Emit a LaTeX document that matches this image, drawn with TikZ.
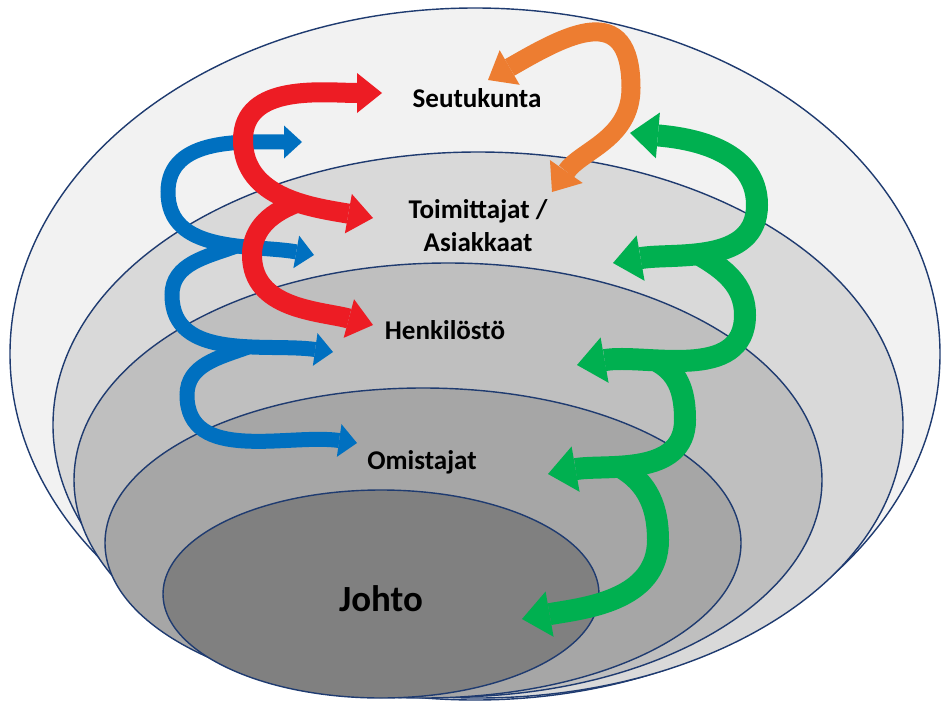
\documentclass[tikz,border=0pt]{standalone}
\usepackage{fontspec}
\setmainfont{Carlito}
\usetikzlibrary{arrows.meta}
\definecolor{cring}{HTML}{1F3B70}
\definecolor{cred}{HTML}{ED1C24}
\definecolor{cblue}{HTML}{0070C0}
\definecolor{cgreen}{HTML}{00B050}
\definecolor{corange}{HTML}{ED7D31}
\tikzset{
  ring/.style={draw=cring, line width=0.8pt, fill=#1},
  levelname/.style={font=\bfseries\fontsize{15.4}{18.7}\selectfont, align=center},
  redflow/.style={draw=cred, line width=4mm, >={Triangle[length=5mm, width=8mm, line width=0pt]}},
  blueflow/.style={draw=cblue, line width=3mm, >={Triangle[length=3.6mm, width=6.6mm, line width=0pt]}},
  greenflow/.style={draw=cgreen, line width=4.4mm, >={Triangle[length=5.6mm, width=9.2mm, line width=0pt]}},
  orangeflow/.style={draw=corange, line width=3.8mm, >={Triangle[length=5mm, width=8mm, line width=0pt]}},
}

\begin{document}
\begin{tikzpicture}
  \useasboundingbox (0,0) rectangle (18.82,14.10);
  % nested rings
  \draw[ring=black!5]  (9.50,7.02) ellipse [x radius=9.30, y radius=6.92];
  \draw[ring=black!15] (9.56,5.60) ellipse [x radius=8.50, y radius=5.46];
  \draw[ring=black!25] (8.96,4.50) ellipse [x radius=7.48, y radius=4.34];
  \draw[ring=black!35] (8.46,3.24) ellipse [x radius=6.36, y radius=3.10];
  \draw[ring=black!50] (7.62,2.22) ellipse [x radius=4.36, y radius=2.08];

  \node[levelname] (seutu) at (9.54,12.14) {Seutukunta};
  \node[levelname] (toim) at (9.56,9.58) {Toimittajat /\\Asiakkaat};
  \node[levelname] (henk) at (8.90,7.50) {Henkilöstö};
  \node[levelname] (omist) at (8.44,4.86) {Omistajat};
  \node[font=\bfseries\fontsize{21}{25}\selectfont] (johto) at (7.62,2.12) {Johto};

  % blue spiral
  \draw[blueflow, <->] (6.04,11.26) to[out=180, in=90] (3.36,10.26)
    to[out=270, in=170] coordinate[pos=0.6] (b1fork) (6.28,9.00);
  \draw[blueflow, ->] (b1fork) to[out=200, in=90] (3.44,8.20)
    to[out=270, in=172] coordinate[pos=0.6] (b2fork) (6.66,7.06);
  \draw[blueflow, ->] (b2fork) to[out=200, in=90] (3.74,6.20) to[out=270, in=172] (7.14,5.24);

  % red spiral
  \draw[redflow, <->] (7.64,12.24) to[out=180, in=90] (4.86,11.30)
    to[out=270, in=170] coordinate[pos=0.58] (r1fork) (7.46,9.74);
  \draw[redflow, ->] (r1fork) to[out=200, in=90] (5.04,9.00) to[out=270, in=165] (7.46,7.60);

  % orange
  \draw[orangeflow, <->] (9.76,12.50) to[out=30, in=90, looseness=1.6] (12.62,12.34) to[out=270, in=55] (11.04,10.26);

  % green spiral
  \draw[greenflow, <->] (12.60,11.44) to[out=-5, in=90] (15.14,10.00)
    to[out=270, in=10] coordinate[pos=0.55] (g1fork) (12.26,8.84);
  \draw[greenflow, ->] (g1fork) to[out=-30, in=90] (14.90,7.80)
    to[out=270, in=10] coordinate[pos=0.63] (g2fork) (11.54,6.80);
  \draw[greenflow, ->] (g2fork) to[out=-30, in=90] (13.70,5.70)
    to[out=270, in=10] coordinate[pos=0.6] (g3fork) (10.96,4.62);
  \draw[greenflow, ->] (g3fork) to[out=-30, in=90] (13.16,3.30) to[out=270, in=10] (10.44,1.72);
\end{tikzpicture}
\end{document}
